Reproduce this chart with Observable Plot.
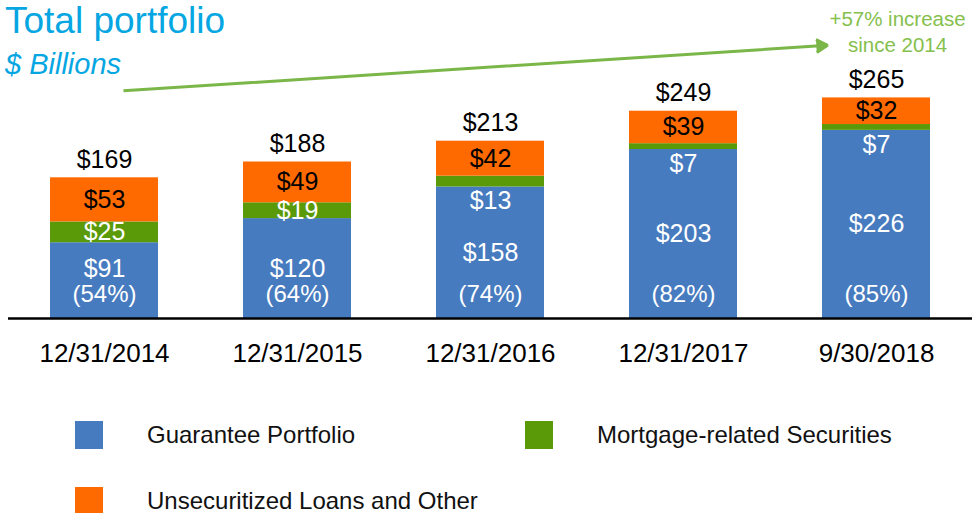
<!DOCTYPE html>
<html>
<head>
<meta charset="utf-8">
<script src="https://cdn.jsdelivr.net/npm/d3@7"></script>
<script src="https://cdn.jsdelivr.net/npm/@observablehq/plot@0.6"></script>
<style>
  html, body { margin: 0; padding: 0; background: #fff; }
  body { width: 972px; height: 513px; position: relative; overflow: hidden; font-family: "Liberation Sans", Arial, sans-serif; }
  #title { position: absolute; left: 5px; top: 2px; font-size: 37px; color: #06a6e2; line-height: 1; white-space: nowrap; }
  #subtitle { position: absolute; left: 5px; top: 50px; font-size: 29px; font-style: italic; color: #06a6e2; line-height: 1; white-space: nowrap; }
  #chart { position: absolute; left: 0; top: 0; }
  #legend { position: absolute; left: 75px; top: 421px; width: 900px; }
  #legend .lg-swatches { margin: 0 !important; min-height: 0 !important; display: block !important; }
  #legend .lg-swatch { display: inline-flex !important; align-items: center; width: 450px; margin: 0 0 38px 0 !important; font-size: 24px !important; color: #111; }
  #legend .lg-swatch svg { margin-right: 44px !important; }
</style>
</head>
<body>
<div id="chart"></div>
<div id="title">Total portfolio</div>
<div id="subtitle">$ Billions</div>
<div id="legend"></div>
<script>
// ---- data ----
const categories = ["12/31/2014", "12/31/2015", "12/31/2016", "12/31/2017", "9/30/2018"];
const guarantee = [91, 120, 158, 203, 226];
const mortgage = [25, 19, 13, 7, 7];
const unsecuritized = [53, 49, 42, 39, 32];
const totals = [169, 188, 213, 249, 265];
const guaranteeShare = [54, 64, 74, 82, 85];
const seriesNames = ["Guarantee Portfolio", "Mortgage-related Securities", "Unsecuritized Loans and Other"];
const seriesColors = ["#477bbf", "#5a9a08", "#ff6a00"];
const increaseNote = "+57% increase\nsince 2014";
const arrowFrom = {x: categories[0], y: 272};
const arrowTo = {x: categories[4], y: 332};
const noteY = 346;

// ---- build tables ----
const rows = categories.map((c, i) => ({
  cat: c, gp: guarantee[i], mrs: mortgage[i], ul: unsecuritized[i], total: totals[i], share: guaranteeShare[i]
}));
const long = [];
categories.forEach((c, i) => {
  long.push({cat: c, series: seriesNames[0], value: guarantee[i]});
  long.push({cat: c, series: seriesNames[1], value: mortgage[i]});
  long.push({cat: c, series: seriesNames[2], value: unsecuritized[i]});
});

const font = "Liberation Sans, Arial, sans-serif";

const plot = Plot.plot({
  width: 972,
  height: 400,
  marginTop: 0,
  marginBottom: 82,
  marginLeft: 8,
  marginRight: 0,
  style: {fontFamily: font, background: "transparent", overflow: "visible"},
  x: {domain: categories, paddingInner: 0.443, paddingOuter: 0.214, axis: null},
  y: {domain: [0, 382], axis: null},
  color: {domain: seriesNames, range: seriesColors},
  marks: [
    Plot.barY(long, {x: "cat", y: "value", fill: "series", order: seriesNames, inset: 0}),
    Plot.ruleY([0], {stroke: "#000", strokeWidth: 2.5}),
    // category labels
    Plot.text(rows, {x: "cat", y: 0, text: "cat", dy: 35, fontSize: 26, fill: "#000", lineAnchor: "middle"}),
    // totals
    Plot.text(rows, {x: "cat", y: "total", text: d => `$${d.total}`, dy: -18, fontSize: 25, fill: "#000", lineAnchor: "middle"}),
    // unsecuritized labels
    Plot.text(rows, {x: "cat", y: d => d.gp + d.mrs + d.ul / 2, text: d => `$${d.ul}`, fontSize: 25, fill: "#000", lineAnchor: "middle"}),
    // mortgage labels
    Plot.text(rows, {x: "cat", y: d => d.mrs >= 15 ? d.gp + d.mrs / 2 : d.gp - 17, text: d => `$${d.mrs}`, fontSize: 25, fill: "#fff", lineAnchor: "middle"}),
    // guarantee labels
    Plot.text(rows, {x: "cat", y: d => Math.max(d.gp / 2, 60), text: d => `$${d.gp}`, fontSize: 25, fill: "#fff", lineAnchor: "middle"}),
    Plot.text(rows, {x: "cat", y: 0, text: d => `(${d.share}%)`, dy: -24, fontSize: 24, fill: "#fff", lineAnchor: "middle"}),
    // growth arrow
    Plot.arrow([{}], {
      x1: () => arrowFrom.x, y1: () => arrowFrom.y, x2: () => arrowTo.x, y2: () => arrowTo.y,
      insetStart: 19, insetEnd: 49, stroke: "#7ab648", fill: "#7ab648", strokeWidth: 3,
      headLength: 6.5, headAngle: 60, strokeLinejoin: "miter", strokeLinecap: "butt"
    }),
    Plot.text([increaseNote], {x: () => categories[4], y: () => noteY, text: d => d, dx: 21, fontSize: 20.5, fill: "#86c04d", lineHeight: 1.3, lineAnchor: "middle"})
  ]
});
document.getElementById("chart").appendChild(plot);

const legend = Plot.legend({
  color: {domain: seriesNames, range: seriesColors},
  legend: "swatches",
  swatchSize: 28,
  className: "lg",
  style: {fontFamily: font, fontSize: "24px"}
});
document.getElementById("legend").appendChild(legend);
</script>
</body>
</html>
